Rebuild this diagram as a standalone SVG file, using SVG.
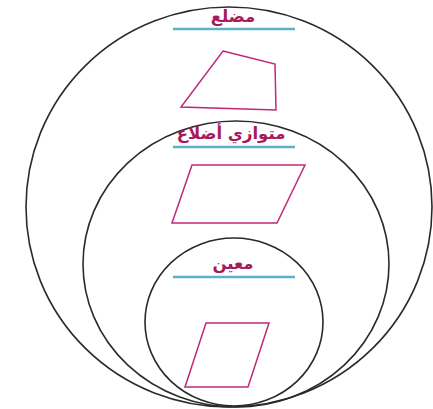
<svg xmlns="http://www.w3.org/2000/svg" width="433" height="409" viewBox="0 0 433 409">
<style>
.ring{fill:none;stroke:#2a2a2a;stroke-width:1.6}
.lbl{font-family:"DejaVu Sans",sans-serif;font-weight:bold;font-size:16.5px;fill:#a8185a;text-anchor:middle}
.rule{stroke:#5bb3c9;stroke-width:2.5}
.shape{fill:#fff;stroke:#c02878;stroke-width:1.5;stroke-linejoin:miter}
</style>
<rect width="433" height="409" fill="#fff"/>
<g id="polygon-set">
<ellipse class="ring" cx="229" cy="207" rx="203" ry="200"/>
<text class="lbl" x="233" y="22" direction="rtl">مضلع</text>
<line class="rule" x1="173" y1="29" x2="295" y2="29"/>
<polygon class="shape" points="223,51 275,64 276,110 181,107"/>
</g>
<g id="parallelogram-set">
<ellipse class="ring" cx="236" cy="264" rx="153" ry="143"/>
<text class="lbl" x="231" y="139" direction="rtl">متوازي أضلاع</text>
<line class="rule" x1="173" y1="147" x2="295" y2="147"/>
<polygon class="shape" points="192,165 305,165 277,223 172,223"/>
</g>
<g id="rhombus-set">
<ellipse class="ring" cx="234" cy="322" rx="89" ry="84"/>
<text class="lbl" x="233" y="269" direction="rtl">معين</text>
<line class="rule" x1="173" y1="277" x2="295" y2="277"/>
<polygon class="shape" points="206,323 269,323 248,387 185,387"/>
</g>
<g id="connectors"></g>
</svg>
